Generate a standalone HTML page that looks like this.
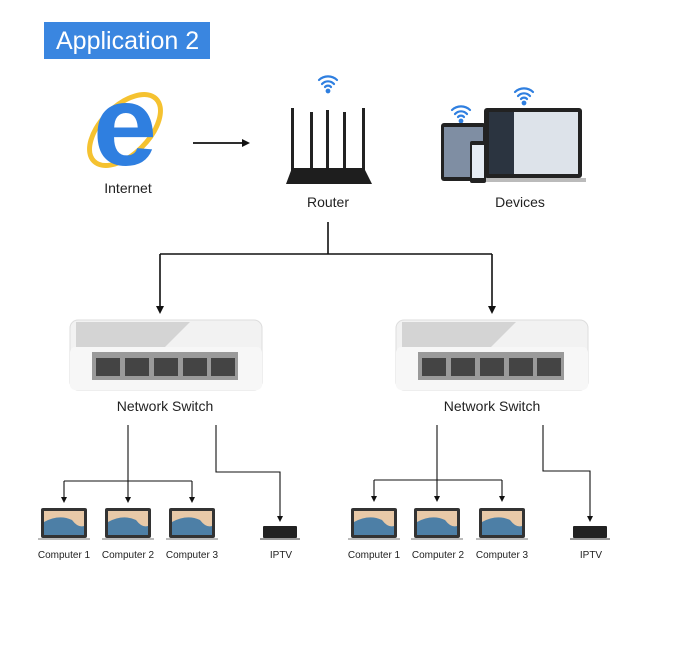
<!DOCTYPE html>
<html><head><meta charset="utf-8"><style>
body{margin:0;background:#fff;width:688px;height:640px;overflow:hidden}
text{font-family:"Liberation Sans",sans-serif;fill:#222}
</style></head><body>
<svg width="688" height="640" viewBox="0 0 688 640">
<defs>
<marker id="a" markerWidth="8" markerHeight="8" refX="4" refY="4" orient="auto" markerUnits="userSpaceOnUse"><path d="M0,0 L8,4 L0,8 z" fill="#111"/></marker>
<marker id="s" markerWidth="6" markerHeight="6" refX="3" refY="3" orient="auto" markerUnits="userSpaceOnUse"><path d="M0,0 L6,3 L0,6 z" fill="#111"/></marker>
<g id="wifi" fill="none" stroke="#2f7fe0" stroke-width="2.2" stroke-linecap="round">
<path d="M-9,-2 A13,13 0 0 1 9,-2"/><path d="M-6,2 A8,8 0 0 1 6,2"/><path d="M-3,5 A4,4 0 0 1 3,5"/><circle cx="0" cy="9" r="1.3" fill="#2f7fe0"/>
</g>
<g id="sw">
<rect x="0" y="0" width="192" height="70" rx="8" fill="#f2f2f2" stroke="#ddd"/>
<path d="M6,2 H120 L95,27 H6 z" fill="#d4d4d4"/>
<rect x="0" y="27" width="192" height="43" rx="5" fill="#f7f7f7"/>
<rect x="22" y="32" width="146" height="28" fill="#9a9a9a"/>
<g fill="#444"><rect x="26" y="38" width="24" height="18"/><rect x="55" y="38" width="24" height="18"/><rect x="84" y="38" width="24" height="18"/><rect x="113" y="38" width="24" height="18"/><rect x="141" y="38" width="24" height="18"/></g>
</g>
<g id="lap">
<rect x="-23" y="0" width="46" height="30" rx="2" fill="#333"/>
<rect x="-20" y="3" width="40" height="24" fill="#e8c9a8"/>
<path d="M-20,14 Q-5,6 8,12 Q14,20 20,18 V27 H-20 z" fill="#4d7fa6"/>
<rect x="-26" y="30" width="52" height="2" fill="#bbb"/>
</g>
<g id="tv"><rect x="-17" y="0" width="34" height="12" rx="1" fill="#222"/><rect x="-20" y="12" width="40" height="2" fill="#999"/></g>
</defs>

<rect x="44" y="22" width="166" height="37" fill="#3a86e0"/>
<text x="56" y="49" font-size="25" style="fill:#fff">Application 2</text>

<!-- IE -->
<ellipse cx="125" cy="130" rx="44" ry="24" transform="rotate(-45 125 130)" fill="none" stroke="#f5c230" stroke-width="5"/>
<text x="125" y="165" font-size="115" font-weight="bold" text-anchor="middle" style="fill:#2f7fe0">e</text>
<text x="128" y="193" font-size="14" text-anchor="middle">Internet</text>

<line x1="193" y1="143" x2="246" y2="143" stroke="#111" stroke-width="1.8" marker-end="url(#a)"/>

<!-- router -->
<use href="#wifi" x="328" y="82"/>
<g fill="#222"><rect x="291" y="108" width="3" height="70"/><rect x="310" y="112" width="3" height="62"/><rect x="326" y="110" width="3" height="64"/><rect x="343" y="112" width="3" height="62"/><rect x="362" y="108" width="3" height="70"/></g>
<path d="M292,168 L364,168 L372,184 L286,184 z" fill="#1e1e1e"/>
<text x="328" y="207" font-size="14" text-anchor="middle">Router</text>

<!-- devices -->
<use href="#wifi" x="524" y="94"/><use href="#wifi" x="461" y="112"/>
<rect x="484" y="108" width="98" height="70" rx="3" fill="#222"/>
<rect x="489" y="112" width="89" height="62" fill="#dde3ea"/>
<rect x="489" y="112" width="25" height="62" fill="#2b3440"/>
<rect x="478" y="178" width="108" height="4" fill="#bbb"/>
<rect x="441" y="123" width="45" height="58" rx="3" fill="#222"/>
<rect x="444" y="127" width="39" height="50" fill="#7f8ea3"/>
<rect x="470" y="141" width="16" height="42" rx="2" fill="#222"/>
<rect x="472" y="145" width="12" height="33" fill="#e6ecf3"/>
<text x="520" y="207" font-size="14" text-anchor="middle">Devices</text>

<!-- top connectors -->
<g stroke="#111" stroke-width="1.6" fill="none">
<path d="M328,222 V254 M160,254 H492"/>
<line x1="160" y1="254" x2="160" y2="310" marker-end="url(#a)"/>
<line x1="492" y1="254" x2="492" y2="310" marker-end="url(#a)"/>
</g>

<use href="#sw" x="70" y="320"/><use href="#sw" x="396" y="320"/>
<text x="165" y="411" font-size="14" text-anchor="middle">Network Switch</text>
<text x="492" y="411" font-size="14" text-anchor="middle">Network Switch</text>

<g stroke="#111" stroke-width="1.1" fill="none">
<path d="M128,425 V481 M64,481 H192"/>
<line x1="64" y1="481" x2="64" y2="500" marker-end="url(#s)"/>
<line x1="128" y1="481" x2="128" y2="500" marker-end="url(#s)"/>
<line x1="192" y1="481" x2="192" y2="500" marker-end="url(#s)"/>
<path d="M216,425 V472 H280 V519" marker-end="url(#s)"/>
<path d="M437,425 V480 M374,480 H502"/>
<line x1="374" y1="480" x2="374" y2="499" marker-end="url(#s)"/>
<line x1="437" y1="480" x2="437" y2="499" marker-end="url(#s)"/>
<line x1="502" y1="480" x2="502" y2="499" marker-end="url(#s)"/>
<path d="M543,425 V471 H590 V519" marker-end="url(#s)"/>
</g>

<use href="#lap" x="64" y="508"/><use href="#lap" x="128" y="508"/><use href="#lap" x="192" y="508"/>
<use href="#lap" x="374" y="508"/><use href="#lap" x="437" y="508"/><use href="#lap" x="502" y="508"/>
<use href="#tv" x="280" y="526"/><use href="#tv" x="590" y="526"/>
<g font-size="10" text-anchor="middle">
<text x="64" y="558">Computer 1</text><text x="128" y="558">Computer 2</text><text x="192" y="558">Computer 3</text><text x="281" y="558">IPTV</text>
<text x="374" y="558">Computer 1</text><text x="438" y="558">Computer 2</text><text x="502" y="558">Computer 3</text><text x="591" y="558">IPTV</text>
</g>
</svg>
</body></html>
